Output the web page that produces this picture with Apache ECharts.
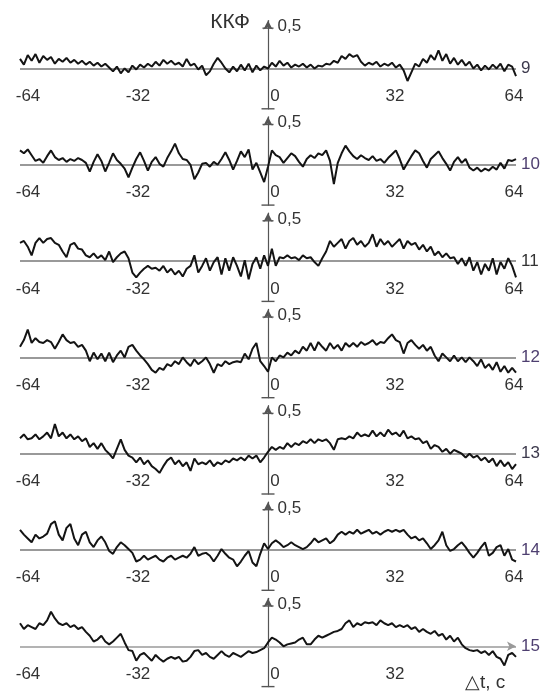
<!DOCTYPE html>
<html><head><meta charset="utf-8">
<script src="https://cdn.jsdelivr.net/npm/echarts@6/dist/echarts.min.js"></script>
<style>html,body{margin:0;padding:0;background:#fff}#c{width:545px;height:695px}</style>
</head><body><div id="c"></div>
<script>
const lagMin = -64, lagMax = 64, lagStep = 1;
const tickLabels = ['-64', '-32', '0', '32', '64'];
const panelLabels = ['9', '10', '11', '12', '13', '14', '15'];
const axisTopLabel = '0,5';

const kkf9 = [
0.10,0.04,0.14,0.08,0.15,0.06,0.13,0.09,
0.12,0.05,0.10,0.07,0.11,0.06,0.09,0.05,
0.08,0.04,0.07,0.03,0.06,0.02,0.05,0.01,
-0.03,0.02,-0.05,0.00,-0.04,0.03,-0.01,0.04,
0.01,0.05,0.02,0.07,0.03,0.09,0.05,0.08,
0.04,0.06,0.02,0.10,0.03,0.05,-0.01,0.03,
-0.07,-0.03,0.05,0.11,0.06,0.00,-0.04,0.02,
-0.03,0.04,-0.02,0.05,-0.04,0.03,-0.02,0.02,
0.00,0.06,0.02,0.08,0.03,0.06,0.01,0.04,
0.02,0.05,0.01,0.04,0.00,0.03,0.02,0.05,
0.04,0.08,0.06,0.13,0.10,0.15,0.12,0.14,
0.07,0.03,0.06,0.04,0.07,0.02,0.05,0.03,
0.06,0.01,0.04,-0.02,-0.13,-0.04,0.05,0.02,
0.10,0.06,0.14,0.09,0.19,0.08,0.15,0.05,
0.11,0.04,0.09,0.03,0.07,0.00,0.04,-0.02,
0.03,-0.01,0.04,0.00,0.05,-0.03,0.04,0.02,
-0.08];
const kkf10 = [
0.15,0.12,0.16,0.10,0.04,0.06,0.02,0.09,
0.15,0.08,0.05,0.07,0.03,0.06,0.04,0.07,
0.05,0.02,-0.07,0.03,0.11,0.04,-0.07,0.02,
0.12,0.05,0.01,-0.04,-0.13,-0.03,0.06,0.13,
0.04,-0.06,0.03,0.08,0.01,-0.02,0.07,0.14,
0.22,0.12,0.06,0.05,0.00,-0.15,-0.08,0.01,
0.02,-0.02,0.03,0.00,0.06,0.13,0.05,-0.05,
0.04,0.14,0.08,0.16,-0.05,0.02,-0.08,-0.18,
-0.02,0.15,0.10,0.08,0.02,0.07,0.12,0.09,
0.03,-0.02,0.06,0.10,0.07,0.12,0.10,0.15,
0.04,-0.20,0.02,0.12,0.20,0.14,0.09,0.06,
0.10,0.07,0.05,0.09,0.04,0.06,0.02,0.07,
0.11,0.15,0.06,-0.05,0.02,0.09,0.15,0.12,
0.04,-0.03,0.06,0.10,0.14,0.07,0.01,-0.06,
0.03,0.08,0.02,0.06,-0.03,-0.06,-0.03,-0.07,
-0.04,-0.06,-0.02,-0.05,0.02,-0.04,0.05,0.04,
0.06];
const kkf11 = [
0.19,0.21,0.15,0.06,0.19,0.24,0.19,0.23,
0.24,0.19,0.17,0.10,0.04,0.17,0.19,0.13,
0.12,0.06,0.04,0.08,0.03,0.06,0.01,0.10,
-0.01,0.04,0.08,0.10,0.03,-0.12,-0.17,-0.12,
-0.08,-0.05,-0.08,-0.07,-0.10,-0.05,-0.12,-0.08,
-0.14,-0.10,-0.16,-0.08,-0.05,0.06,-0.12,-0.05,
0.03,-0.10,-0.01,0.04,-0.14,0.03,-0.10,0.04,
-0.05,-0.16,0.01,-0.19,-0.03,0.04,-0.08,0.06,
-0.05,0.13,-0.05,0.04,0.03,0.06,0.03,0.04,
0.01,0.06,0.03,0.04,-0.01,-0.05,0.03,0.10,
0.21,0.15,0.19,0.23,0.13,0.21,0.24,0.17,
0.21,0.15,0.19,0.28,0.15,0.23,0.17,0.21,
0.15,0.19,0.23,0.13,0.21,0.17,0.19,0.12,
0.17,0.10,0.15,0.06,0.10,0.04,0.08,0.03,
0.04,-0.03,0.03,-0.05,0.04,-0.10,-0.01,-0.14,
-0.03,-0.10,0.03,-0.14,-0.01,-0.08,0.03,-0.05,
-0.17];
const kkf12 = [
0.11,0.18,0.29,0.15,0.20,0.16,0.15,0.18,
0.16,0.09,0.16,0.24,0.18,0.15,0.16,0.11,
0.13,0.07,-0.04,0.05,-0.02,0.04,-0.04,0.05,
-0.05,0.02,0.07,0.00,0.11,0.13,0.07,0.02,
-0.02,-0.07,-0.13,-0.16,-0.11,-0.13,-0.07,-0.09,
-0.04,-0.07,0.00,-0.05,-0.09,-0.02,-0.07,-0.04,
0.00,-0.07,-0.16,-0.07,-0.09,-0.04,-0.07,-0.05,
-0.04,-0.05,0.04,-0.02,0.09,0.15,-0.04,-0.09,
-0.15,0.00,-0.04,0.02,0.00,0.05,0.02,0.07,
0.04,0.11,0.07,0.15,0.07,0.16,0.11,0.07,
0.15,0.09,0.13,0.07,0.15,0.11,0.15,0.11,
0.16,0.13,0.15,0.18,0.13,0.16,0.15,0.20,
0.24,0.18,0.16,0.04,0.15,0.18,0.13,0.09,
0.13,0.07,0.11,0.02,-0.04,0.04,0.00,-0.04,
0.02,-0.04,0.00,-0.05,0.00,-0.04,-0.09,-0.02,
-0.11,-0.07,-0.13,-0.05,-0.15,-0.09,-0.16,-0.11,
-0.16];
const kkf13 = [
0.16,0.20,0.15,0.16,0.20,0.15,0.18,0.22,
0.16,0.31,0.18,0.22,0.16,0.20,0.15,0.18,
0.13,0.16,0.07,0.11,0.05,0.11,0.04,0.00,
-0.05,0.05,0.15,0.04,-0.02,-0.04,-0.09,-0.04,
-0.11,-0.07,-0.13,-0.16,-0.20,-0.13,-0.07,-0.04,
-0.11,-0.07,-0.13,-0.09,-0.18,-0.05,-0.11,-0.09,
-0.11,-0.07,-0.13,-0.09,-0.11,-0.07,-0.09,-0.05,
-0.07,-0.04,-0.07,-0.02,-0.05,-0.02,-0.09,-0.04,
0.02,0.07,0.04,0.07,0.05,0.11,0.07,0.11,
0.09,0.13,0.11,0.15,0.11,0.15,0.13,0.15,
0.11,0.04,0.15,0.16,0.15,0.18,0.16,0.22,
0.18,0.20,0.18,0.24,0.18,0.22,0.18,0.25,
0.20,0.22,0.18,0.24,0.16,0.18,0.15,0.16,
0.11,0.13,0.05,0.09,0.07,0.02,0.05,0.00,
0.04,0.02,0.00,-0.04,0.00,-0.04,-0.02,-0.07,
-0.04,-0.09,-0.05,-0.13,-0.07,-0.13,-0.09,-0.16,
-0.11];
const kkf14 = [
0.21,0.16,0.12,0.08,0.16,0.12,0.14,0.17,
0.27,0.30,0.16,0.10,0.23,0.27,0.12,0.05,
0.16,0.19,0.08,0.03,0.10,0.14,0.08,-0.01,
-0.04,0.03,0.08,0.05,0.01,-0.03,-0.12,-0.10,
-0.06,-0.10,-0.08,-0.06,-0.10,-0.12,-0.08,-0.06,
-0.10,-0.08,-0.06,-0.08,-0.04,0.03,-0.06,-0.04,
-0.03,-0.06,-0.12,-0.06,0.01,-0.04,-0.08,-0.10,
-0.17,-0.12,-0.06,-0.01,-0.13,-0.17,-0.04,0.07,
0.01,0.07,0.10,0.07,0.03,0.05,0.08,0.05,
0.03,0.01,0.03,0.07,0.12,0.08,0.10,0.12,
0.07,0.10,0.16,0.19,0.16,0.19,0.17,0.21,
0.17,0.19,0.21,0.17,0.19,0.16,0.19,0.21,
0.19,0.21,0.19,0.21,0.16,0.12,0.14,0.10,
0.12,0.07,0.01,0.05,0.10,0.19,0.05,-0.01,
0.01,0.05,0.08,0.03,-0.03,-0.08,-0.03,0.03,
0.08,-0.06,-0.03,0.03,0.05,-0.06,0.01,-0.10,
-0.12];
const kkf15 = [
0.24,0.18,0.22,0.20,0.18,0.24,0.22,0.27,
0.36,0.29,0.24,0.22,0.24,0.20,0.22,0.18,
0.20,0.15,0.11,0.05,0.07,0.11,0.05,0.02,
0.05,0.09,0.13,0.04,-0.04,-0.05,-0.15,-0.09,
-0.07,-0.11,-0.15,-0.09,-0.13,-0.16,-0.13,-0.11,
-0.13,-0.11,-0.16,-0.15,-0.11,-0.05,-0.04,-0.09,
-0.07,-0.11,-0.13,-0.09,-0.05,-0.09,-0.11,-0.07,
-0.09,-0.11,-0.08,-0.05,-0.07,-0.06,-0.04,-0.02,
0.04,0.09,0.07,0.04,0.00,0.02,0.03,0.04,
0.07,0.09,0.02,0.02,0.07,0.11,0.09,0.11,
0.13,0.15,0.16,0.18,0.24,0.27,0.20,0.24,
0.22,0.25,0.24,0.25,0.22,0.27,0.24,0.22,
0.24,0.20,0.22,0.20,0.22,0.18,0.20,0.15,
0.18,0.15,0.13,0.16,0.11,0.13,0.07,0.11,
0.05,0.09,0.02,-0.02,-0.04,-0.05,-0.04,-0.07,
-0.05,-0.09,-0.05,-0.11,-0.13,-0.20,-0.09,-0.07,
-0.11];

const panels = [kkf9, kkf10, kkf11, kkf12, kkf13, kkf14, kkf15];
const labelColors = ['#3d3a4d', '#4e3f70', '#333333', '#4e3f70', '#3d3a4d', '#4e3f70', '#4e3f70'];

const FONT = '"Liberation Sans", Arial, sans-serif';
const chart = echarts.init(document.getElementById('c'), null, { renderer: 'canvas' });

const richBase = { fontSize: 17, color: '#333', fontFamily: FONT };
const tickRich = {
  a: Object.assign({ padding: [0, 0, 0, 16] }, richBase),
  b: Object.assign({ padding: [0, 12, 0, 0] }, richBase),
  c: Object.assign({ padding: [0, 0, 0, 14] }, richBase),
  d: Object.assign({ padding: [0, 0, 0, 6] }, richBase),
  e: Object.assign({ padding: [0, 4, 0, 0] }, richBase)
};
const keys = ['a', 'b', 'c', 'd', 'e'];

const grids = [], xAxes = [], yAxes = [], series = [];
panels.forEach((vals, i) => {
  const last = i === panels.length - 1;
  grids.push({ left: 20, right: 29, top: 20.5 + 96.3 * i, height: 88.3 });
  xAxes.push({
    type: 'value', gridIndex: i, min: lagMin, max: lagMax, interval: 32,
    axisLine: { show: false },
    axisTick: { show: false }, splitLine: { show: false },
    axisLabel: {
      margin: -21, fontSize: 17, color: '#333', fontFamily: FONT,
      formatter: v => {
        const k = Math.round((v - lagMin) / 32);
        if (last && k === 4) return '';
        return (k >= 0 && k < 5) ? '{' + keys[k] + '|' + tickLabels[k] + '}' : '';
      },
      rich: tickRich
    }
  });
  yAxes.push({
    type: 'value', gridIndex: i, min: -0.42, max: 0.5,
    axisLine: { show: true, onZero: true, lineStyle: { color: '#555', width: 1.2 },
      symbol: ['none', 'arrow'], symbolSize: [7, 9] },
    axisTick: { show: false }, splitLine: { show: false },
    axisLabel: { show: false }
  });
  series.push({
    type: 'line', xAxisIndex: i, yAxisIndex: i, symbol: 'none', silent: true, z: 5,
    data: vals.map((v, k) => [lagMin + k * lagStep, v]),
    lineStyle: { color: '#141414', width: 2 },
    markLine: {
      silent: true, z: 1,
      symbol: last ? ['none', 'arrow'] : ['none', 'none'], symbolSize: [7, 9],
      lineStyle: { color: last ? '#9a9a9a' : '#777777', width: 1.5, type: 'solid' },
      label: { show: true, position: 'end', distance: 5, formatter: panelLabels[i],
        color: labelColors[i], fontSize: 17, fontFamily: FONT },
      emphasis: { disabled: true },
      data: [{ yAxis: 0 }]
    },
    markPoint: {
      silent: true, label: { show: false },
      data: [
        { coord: [0, -0.42], symbol: 'rect', symbolSize: [13, 1.4], itemStyle: { color: '#555' } },
        { coord: [0, 0.42], symbol: 'rect', symbolSize: [11, 1.4], itemStyle: { color: '#555' } },
        { coord: [0, 0.5], symbol: 'rect', symbolSize: [1, 1], itemStyle: { color: 'rgba(0,0,0,0)' },
          label: { show: true, position: 'right', distance: 9, offset: [0, 6], formatter: axisTopLabel,
            fontSize: 17, color: '#333', fontFamily: FONT } }
      ]
    }
  });
});

chart.setOption({
  animation: false,
  backgroundColor: '#fff',
  title: [
    { text: 'ККФ', right: 290, top: 7, textStyle: { fontSize: 21, fontWeight: 'normal', color: '#333', fontFamily: FONT } },
    { text: '△t, c', left: 460, top: 668, textStyle: { fontSize: 19, fontWeight: 'normal', color: '#333', fontFamily: FONT } }
  ],
  grid: grids, xAxis: xAxes, yAxis: yAxes, series: series
});
</script></body></html>
